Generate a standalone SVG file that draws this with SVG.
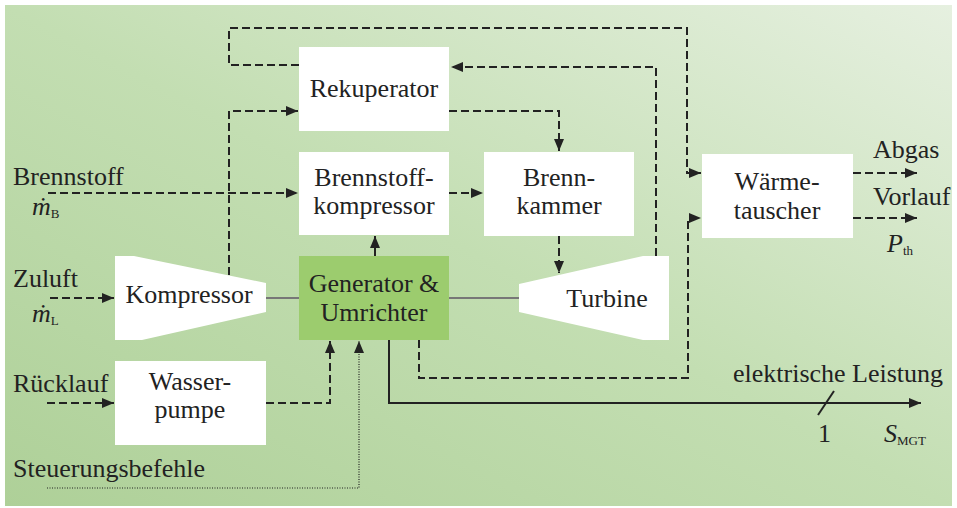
<svg xmlns="http://www.w3.org/2000/svg" width="957" height="508" viewBox="0 0 957 508">
<defs>
<linearGradient id="bg" x1="0" y1="1" x2="1" y2="0">
<stop offset="0" stop-color="#aed098"/>
<stop offset="0.5" stop-color="#c3deb2"/>
<stop offset="1" stop-color="#e6f0e0"/>
</linearGradient>
<marker id="ah" viewBox="0 0 12 10" refX="12" refY="5" markerWidth="12" markerHeight="10" markerUnits="userSpaceOnUse" orient="auto">
<path d="M0,0 L12,5 L0,10 z" fill="#222"/>
</marker>
</defs>
<style>
.box{fill:#fff}
.gen{fill:#9ccc6e}
.t{font-family:"Liberation Serif","Times New Roman",serif;font-size:26px;fill:#222}
.c{text-anchor:middle}
.i{font-style:italic}
.sub{font-family:"Liberation Serif","Times New Roman",serif;font-size:13px;fill:#222}
.d{fill:none;stroke:#222;stroke-width:2;stroke-dasharray:8 4}
.s{fill:none;stroke:#222;stroke-width:2}
.g{fill:none;stroke:#777;stroke-width:2}
.dot{fill:none;stroke:#222;stroke-width:1.2;stroke-dasharray:1 1.5}
</style>
<rect x="0" y="0" width="957" height="508" fill="#fff"/>
<rect x="5" y="5" width="947" height="501" fill="url(#bg)"/>

<g id="connectors">
<path class="g" d="M266,298 H299"/>
<path class="g" d="M449,298 H519"/>
<path class="d" d="M299,65 H229 V28 H687 V173 H701" marker-end="url(#ah)"/>
<path class="d" d="M656,256 V67 H451" marker-end="url(#ah)"/>
<path class="d" d="M449,111 H559 V151" marker-end="url(#ah)"/>
<path class="d" d="M559,236 V273" marker-end="url(#ah)"/>
<path class="d" d="M229,275 V111 H298" marker-end="url(#ah)"/>
<path class="d" d="M48,193 H298" marker-end="url(#ah)"/>
<path class="d" d="M449,193 H483" marker-end="url(#ah)"/>
<path class="d" d="M50,298 H114" marker-end="url(#ah)"/>
<path class="d" d="M47,403 H114" marker-end="url(#ah)"/>
<path class="d" d="M266,403 H330 V341" marker-end="url(#ah)"/>
<path class="dot" d="M47,488 H359 V341" marker-end="url(#ah)"/>
<path class="s" d="M375,256 V236" marker-end="url(#ah)"/>
<path class="d" d="M419,340 V378 H688 V218 H701" marker-end="url(#ah)"/>
<path class="s" d="M389,340 V403 H921" marker-end="url(#ah)"/>
<path class="s" d="M818,415 L834,391"/>
<path class="d" d="M853,173 H917" marker-end="url(#ah)"/>
<path class="d" d="M853,218 H917" marker-end="url(#ah)"/>
</g>

<g id="rekuperator">
<rect class="box" x="299" y="47" width="150" height="84"/>
<text class="t c" x="374" y="97">Rekuperator</text>
</g>
<g id="brennstoffkompressor">
<rect class="box" x="299" y="152" width="150" height="83"/>
<text class="t c" x="374" y="186">Brennstoff-</text>
<text class="t c" x="374" y="214">kompressor</text>
</g>
<g id="brennkammer">
<rect class="box" x="484" y="152" width="150" height="84"/>
<text class="t c" x="559" y="186">Brenn-</text>
<text class="t c" x="559" y="214">kammer</text>
</g>
<g id="waermetauscher">
<rect class="box" x="702" y="154" width="151" height="84"/>
<text class="t c" x="777" y="190">Wärme-</text>
<text class="t c" x="777" y="219">tauscher</text>
</g>
<g id="generator">
<rect class="gen" x="299" y="256" width="150" height="84"/>
<text class="t c" x="374" y="292">Generator &amp;</text>
<text class="t c" x="374" y="321">Umrichter</text>
</g>
<g id="kompressor">
<path class="box" d="M115,256 H134 L266,283 V312 L142,340 H115 Z"/>
<text class="t c" x="189" y="303">Kompressor</text>
</g>
<g id="turbine">
<path class="box" d="M519,284 L643,256 H669 V340 H643 L519,312 Z"/>
<text class="t c" x="607" y="307">Turbine</text>
</g>
<g id="wasserpumpe">
<rect class="box" x="115" y="361" width="151" height="84"/>
<text class="t c" x="190" y="390">Wasser-</text>
<text class="t c" x="190" y="418">pumpe</text>
</g>

<g id="labels">
<text class="t" x="13" y="185">Brennstoff</text>
<text class="t i" x="32" y="215">ṁ<tspan class="sub" font-style="normal" dy="3">B</tspan></text>
<text class="t" x="13" y="287">Zuluft</text>
<text class="t i" x="32" y="322">ṁ<tspan class="sub" font-style="normal" dy="3">L</tspan></text>
<text class="t" x="13" y="392">Rücklauf</text>
<text class="t" x="13" y="477">Steuerungsbefehle</text>
<text class="t" x="873" y="158">Abgas</text>
<text class="t" x="873" y="205">Vorlauf</text>
<text class="t i" x="887" y="252">P<tspan class="sub" font-style="normal" dy="3">th</tspan></text>
<text class="t" x="733" y="382">elektrische Leistung</text>
<text class="t" x="818" y="442">1</text>
<text class="t i" x="884" y="442">S<tspan class="sub" font-style="normal" dy="3">MGT</tspan></text>
</g>
</svg>
